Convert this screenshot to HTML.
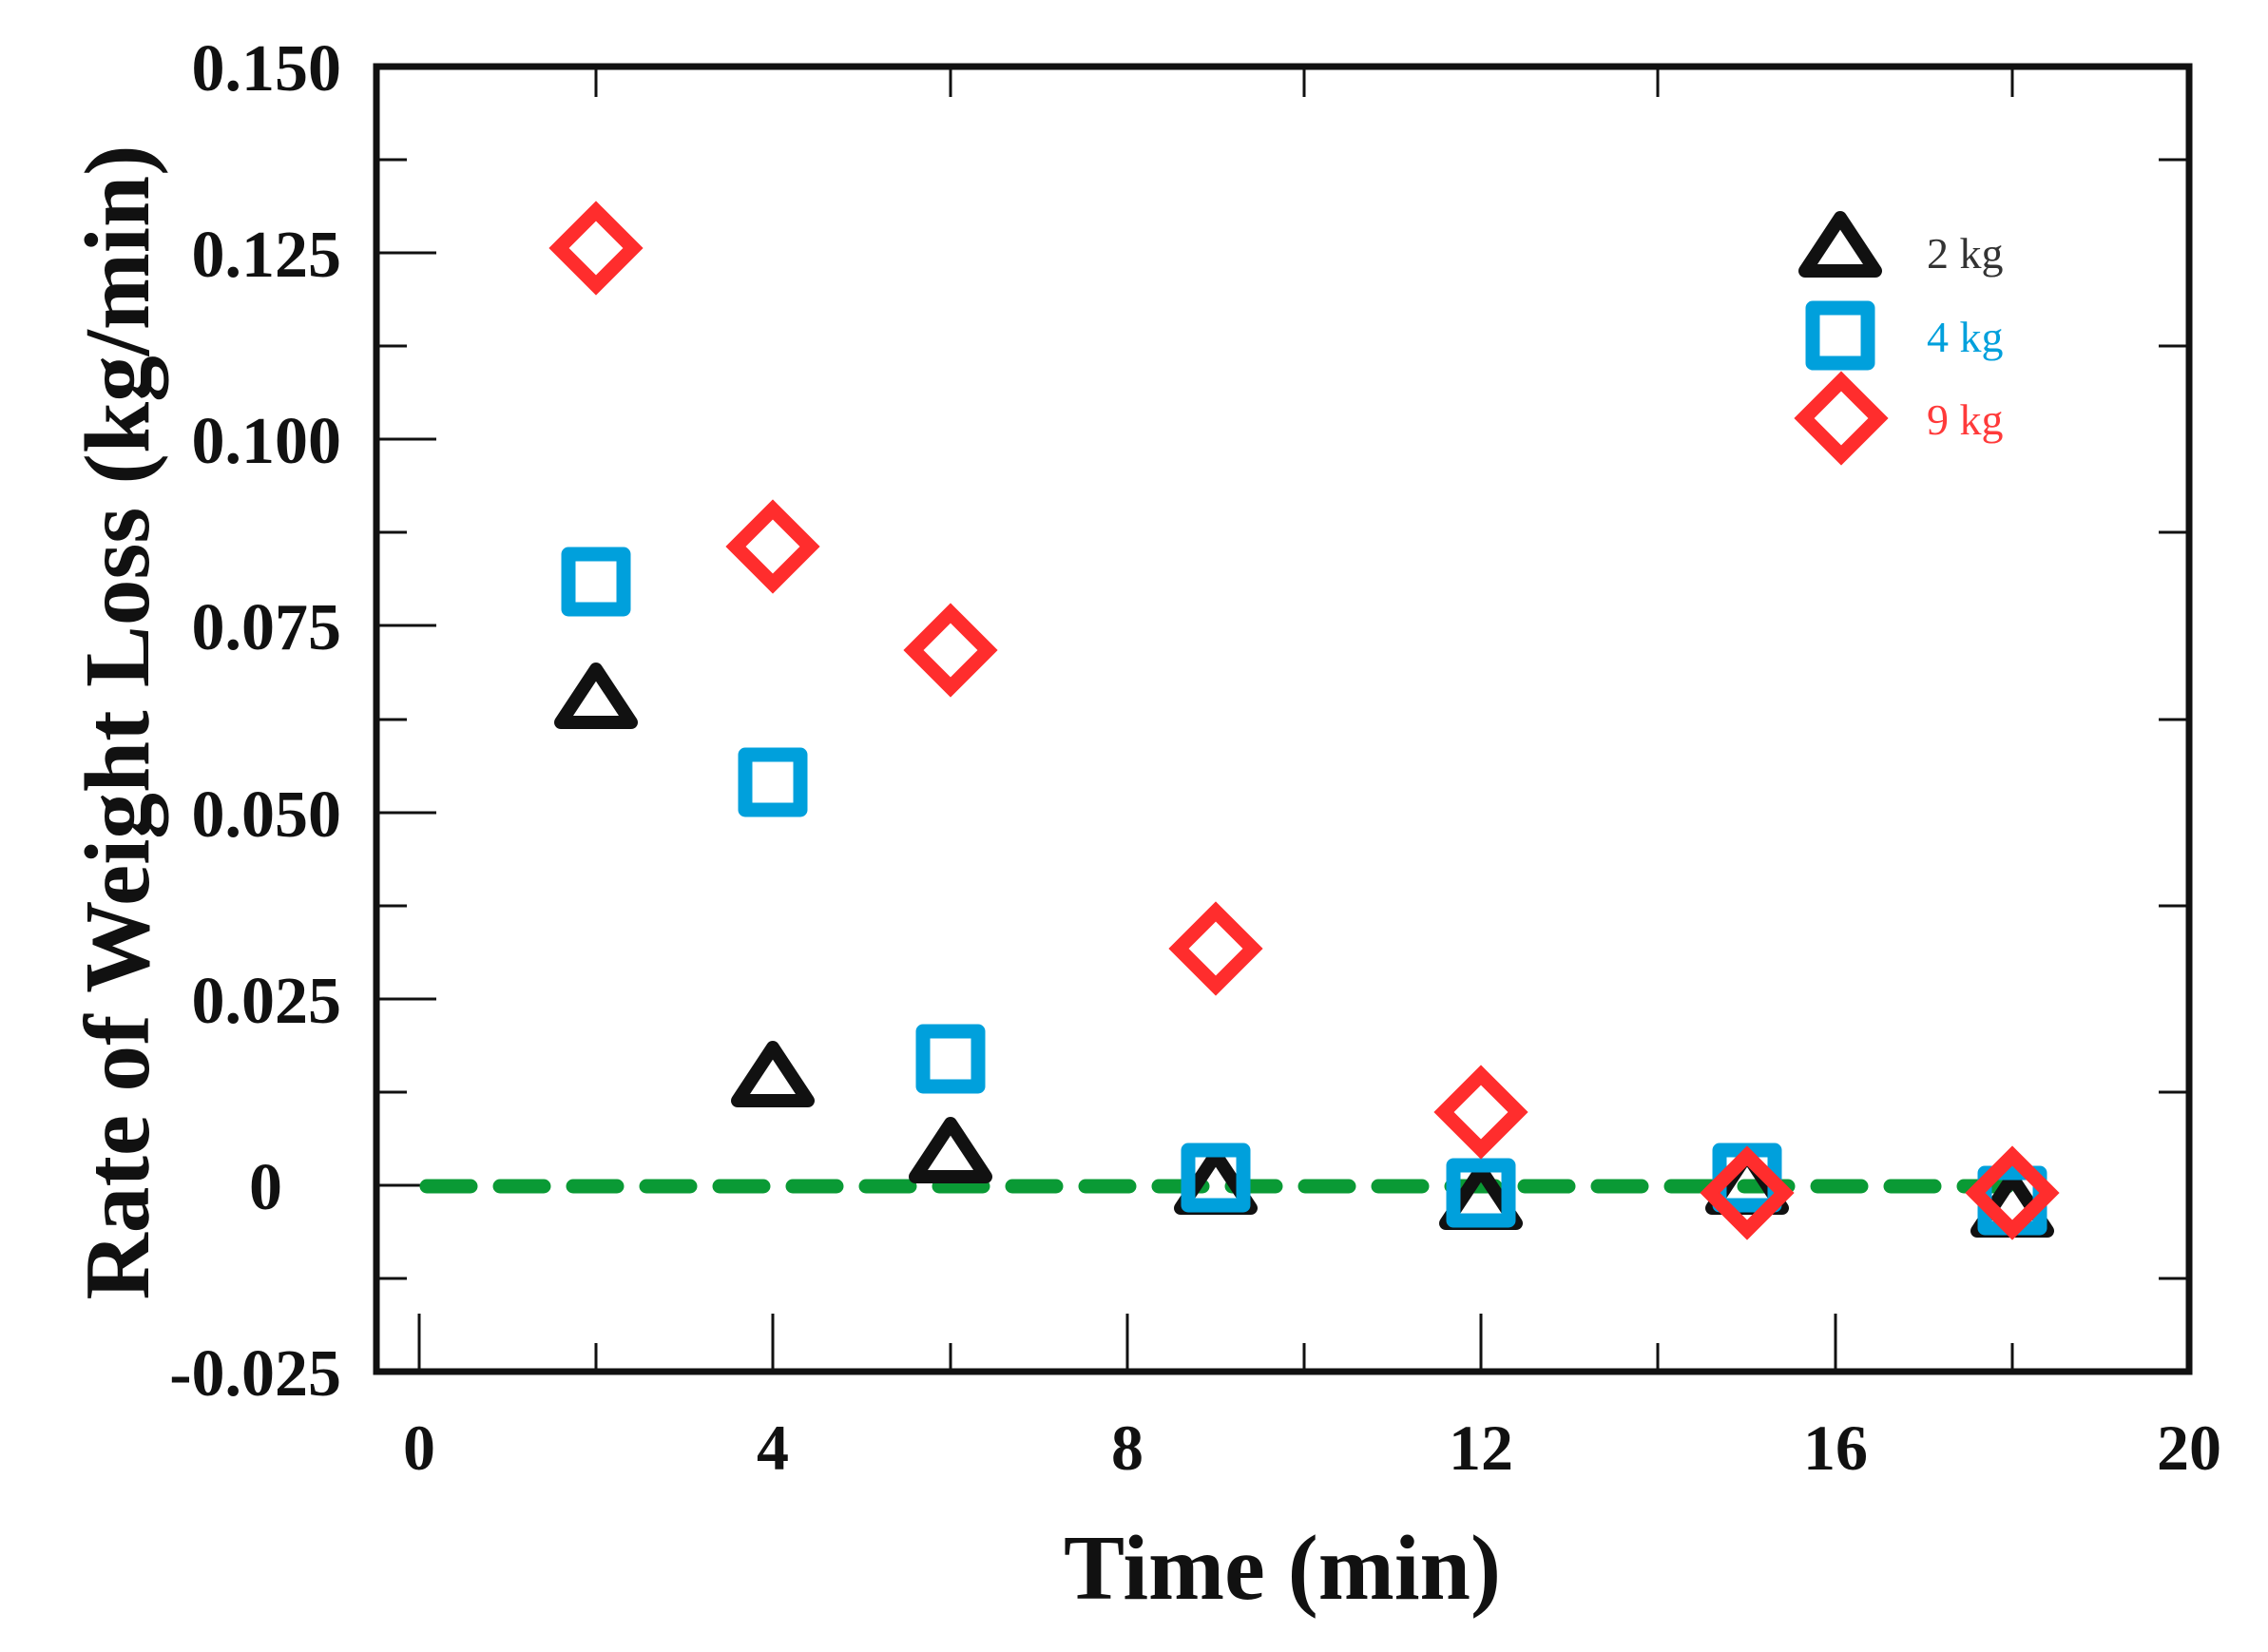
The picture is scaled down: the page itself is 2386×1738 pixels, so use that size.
<!DOCTYPE html>
<html><head><meta charset="utf-8"><style>html,body{margin:0;padding:0;background:#fff}svg{display:block}
text{font-family:"Liberation Serif","Times New Roman",serif}
.b{font-weight:bold}
</style></head>
<body>
<svg width="2386" height="1738" viewBox="0 0 2386 1738" xmlns="http://www.w3.org/2000/svg">
<rect width="2386" height="1738" fill="#fff"/>
<defs>
<path id="tri" d="M0,-28 L37,28 L-37,28 Z" fill="none" stroke="#111" stroke-width="14" stroke-linejoin="round"/>
<rect id="sq" x="-29" y="-29" width="58" height="58" fill="none" stroke="#00a0dc" stroke-width="15" stroke-linejoin="round"/>
<path id="dia" d="M0,-39 L39,0 L0,39 L-39,0 Z" fill="none" stroke="#ff2d2d" stroke-width="15" stroke-linejoin="miter"/>
</defs>
<g stroke="#111" stroke-width="3">
<line x1="396" y1="266" x2="459" y2="266"/><line x1="396" y1="462" x2="459" y2="462"/><line x1="396" y1="658" x2="459" y2="658"/><line x1="396" y1="855" x2="459" y2="855"/><line x1="396" y1="1051" x2="459" y2="1051"/><line x1="396" y1="1247" x2="459" y2="1247"/>
<line x1="396" y1="168" x2="428" y2="168"/><line x1="396" y1="364" x2="428" y2="364"/><line x1="396" y1="560" x2="428" y2="560"/><line x1="396" y1="757" x2="428" y2="757"/><line x1="396" y1="953" x2="428" y2="953"/><line x1="396" y1="1149" x2="428" y2="1149"/><line x1="396" y1="1345" x2="428" y2="1345"/>
<line x1="2303" y1="168" x2="2271" y2="168"/><line x1="2303" y1="364" x2="2271" y2="364"/><line x1="2303" y1="560" x2="2271" y2="560"/><line x1="2303" y1="757" x2="2271" y2="757"/><line x1="2303" y1="953" x2="2271" y2="953"/><line x1="2303" y1="1149" x2="2271" y2="1149"/><line x1="2303" y1="1345" x2="2271" y2="1345"/>
<line x1="441" y1="1443" x2="441" y2="1382"/><line x1="813" y1="1443" x2="813" y2="1382"/><line x1="1186" y1="1443" x2="1186" y2="1382"/><line x1="1558" y1="1443" x2="1558" y2="1382"/><line x1="1931" y1="1443" x2="1931" y2="1382"/>
<line x1="627" y1="1443" x2="627" y2="1413"/><line x1="1000" y1="1443" x2="1000" y2="1413"/><line x1="1372" y1="1443" x2="1372" y2="1413"/><line x1="1744" y1="1443" x2="1744" y2="1413"/><line x1="2117" y1="1443" x2="2117" y2="1413"/>
<line x1="627" y1="70" x2="627" y2="102"/><line x1="1000" y1="70" x2="1000" y2="102"/><line x1="1372" y1="70" x2="1372" y2="102"/><line x1="1744" y1="70" x2="1744" y2="102"/><line x1="2117" y1="70" x2="2117" y2="102"/>
</g>
<rect x="396" y="70" width="1907" height="1373" fill="none" stroke="#111" stroke-width="7"/>

<line x1="449" y1="1248" x2="2112" y2="1248" stroke="#0a9a35" stroke-width="15" stroke-linecap="round" stroke-dasharray="46 31"/>

<use href="#tri" x="627" y="732"/><use href="#tri" x="813" y="1130"/><use href="#tri" x="1000" y="1210"/><use href="#tri" x="1279" y="1243"/><use href="#tri" x="1558" y="1259"/><use href="#tri" x="1838" y="1243"/><use href="#tri" x="2117" y="1267"/>
<use href="#sq" x="627" y="612"/><use href="#sq" x="813" y="823"/><use href="#sq" x="1000" y="1114"/><use href="#sq" x="1279" y="1239"/><use href="#sq" x="1558" y="1255"/><use href="#sq" x="1838" y="1239"/><use href="#sq" x="2117" y="1263"/>
<use href="#dia" x="627" y="261"/><use href="#dia" x="813" y="575"/><use href="#dia" x="1000" y="684"/><use href="#dia" x="1279" y="998"/><use href="#dia" x="1558" y="1170"/><use href="#dia" x="1838" y="1255"/><use href="#dia" x="2117" y="1255"/>

<use href="#tri" x="1936" y="257"/>
<use href="#sq" x="1936" y="353"/>
<use href="#dia" x="1937" y="440"/>
<g font-size="46">
<text x="2027" y="282" fill="#333">2 kg</text>
<text x="2027" y="370" fill="#00a0dc">4 kg</text>
<text x="2027" y="457" fill="#ff3a3a">9 kg</text>
</g>

<g class="b" font-size="70" fill="#111" text-anchor="end">
<text class="b" x="359" y="95">0.150</text>
<text class="b" x="359" y="291">0.125</text>
<text class="b" x="359" y="487">0.100</text>
<text class="b" x="359" y="683">0.075</text>
<text class="b" x="359" y="880">0.050</text>
<text class="b" x="359" y="1076">0.025</text>
<text class="b" x="297" y="1272">0</text>
<text class="b" x="359" y="1468">-0.025</text>
</g>
<g font-size="68" fill="#111" text-anchor="middle">
<text class="b" x="441" y="1546">0</text>
<text class="b" x="813" y="1546">4</text>
<text class="b" x="1186" y="1546">8</text>
<text class="b" x="1558" y="1546">12</text>
<text class="b" x="1931" y="1546">16</text>
<text class="b" x="2303" y="1546">20</text>
</g>
<text class="b" x="1349" y="1682" font-size="98" fill="#111" text-anchor="middle" textLength="460" lengthAdjust="spacingAndGlyphs">Time (min)</text>
<text class="b" transform="translate(156,760) rotate(-90)" x="0" y="0" font-size="98" fill="#111" text-anchor="middle" textLength="1215" lengthAdjust="spacingAndGlyphs">Rate of Weight Loss (kg/min)</text>
</svg>
</body></html>
